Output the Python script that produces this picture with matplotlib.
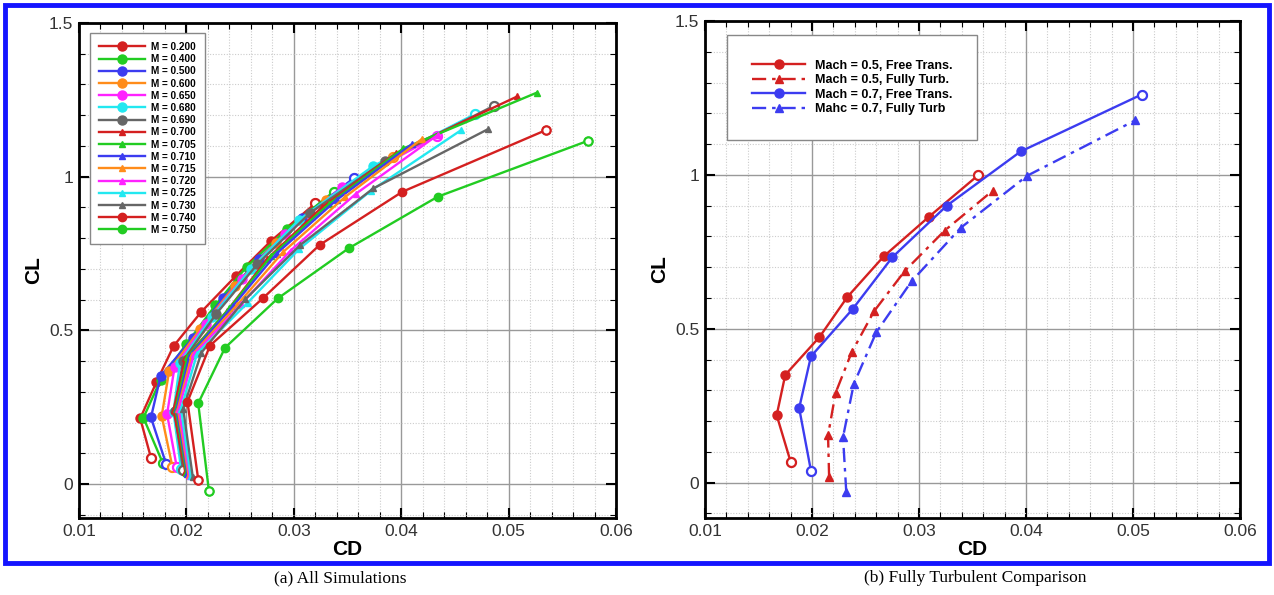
import matplotlib
matplotlib.use("Agg")
import matplotlib.pyplot as plt
from matplotlib.patches import Rectangle
from matplotlib.ticker import MultipleLocator, FormatStrFormatter

# ---- (a) all simulations: CD / CL per Mach number ----
mach_labels = ["M = 0.200", "M = 0.400", "M = 0.500", "M = 0.600", "M = 0.650",
               "M = 0.680", "M = 0.690", "M = 0.700", "M = 0.705", "M = 0.710",
               "M = 0.715", "M = 0.720", "M = 0.725", "M = 0.730", "M = 0.740",
               "M = 0.750"]

cd_m200 = [0.0167, 0.0157, 0.0172, 0.0188, 0.0214, 0.0246, 0.0279, 0.0320]
cl_m200 = [0.086, 0.214, 0.331, 0.449, 0.561, 0.677, 0.792, 0.913]
cd_m400 = [0.0178, 0.0160, 0.0176, 0.0200, 0.0227, 0.0256, 0.0294, 0.0337]
cl_m400 = [0.069, 0.216, 0.340, 0.456, 0.582, 0.707, 0.830, 0.951]
cd_m500 = [0.0181, 0.0167, 0.0176, 0.0206, 0.0234, 0.0268, 0.0308, 0.0356]
cl_m500 = [0.067, 0.217, 0.352, 0.475, 0.605, 0.734, 0.866, 0.996]
cd_m600 = [0.0187, 0.0177, 0.0184, 0.0213, 0.0245, 0.0283, 0.0330, 0.0392]
cl_m600 = [0.056, 0.222, 0.369, 0.505, 0.645, 0.785, 0.925, 1.065]
cd_m650 = [0.0191, 0.0182, 0.0189, 0.0218, 0.0252, 0.0292, 0.0345, 0.0433]
cl_m650 = [0.056, 0.228, 0.381, 0.522, 0.668, 0.815, 0.965, 1.133]
cd_m680 = [0.0195, 0.0188, 0.0194, 0.0224, 0.0260, 0.0305, 0.0374, 0.0469]
cl_m680 = [0.050, 0.235, 0.395, 0.545, 0.700, 0.860, 1.035, 1.204]
cd_m690 = [0.0197, 0.0189, 0.0197, 0.0228, 0.0266, 0.0315, 0.0385, 0.0486]
cl_m690 = [0.045, 0.238, 0.402, 0.555, 0.715, 0.882, 1.052, 1.230]
cd_m700 = [0.0199, 0.0188, 0.0199, 0.0238, 0.0275, 0.0326, 0.0395, 0.0508]
cl_m700 = [0.039, 0.242, 0.410, 0.564, 0.732, 0.900, 1.076, 1.261]
cd_m705 = [0.0200, 0.0190, 0.0201, 0.0240, 0.0279, 0.0333, 0.0402, 0.0526]
cl_m705 = [0.036, 0.245, 0.415, 0.572, 0.742, 0.912, 1.092, 1.273]
cd_m710 = [0.0201, 0.0191, 0.0203, 0.0243, 0.0284, 0.0340, 0.0410]
cl_m710 = [0.033, 0.245, 0.418, 0.578, 0.750, 0.925, 1.106]
cd_m715 = [0.0202, 0.0192, 0.0205, 0.0247, 0.0290, 0.0348, 0.0419]
cl_m715 = [0.030, 0.245, 0.420, 0.582, 0.755, 0.935, 1.122]
cd_m720 = [0.0203, 0.0193, 0.0207, 0.0251, 0.0297, 0.0358, 0.0434]
cl_m720 = [0.028, 0.245, 0.422, 0.585, 0.760, 0.945, 1.136]
cd_m725 = [0.0204, 0.0195, 0.0210, 0.0257, 0.0305, 0.0372, 0.0456]
cl_m725 = [0.025, 0.245, 0.425, 0.590, 0.765, 0.955, 1.152]
cd_m730 = [0.0206, 0.0197, 0.0214, 0.0255, 0.0306, 0.0374, 0.0481]
cl_m730 = [0.022, 0.245, 0.428, 0.602, 0.778, 0.962, 1.155]
cd_m740 = [0.0211, 0.0201, 0.0222, 0.0271, 0.0324, 0.0401, 0.0535]
cl_m740 = [0.015, 0.268, 0.451, 0.604, 0.778, 0.951, 1.152]
cd_m750 = [0.0221, 0.0211, 0.0236, 0.0285, 0.0351, 0.0434, 0.0574]
cl_m750 = [-0.023, 0.263, 0.444, 0.604, 0.767, 0.935, 1.117]

# ---- (b) free transition vs fully turbulent ----
comp_labels = ["Mach = 0.5, Free Trans.", "Mach = 0.5, Fully Turb.",
               "Mach = 0.7, Free Trans.", "Mahc = 0.7, Fully Turb"]
cd_05_free = [0.0180, 0.0167, 0.0175, 0.0207, 0.0233, 0.0267, 0.0309, 0.0355]
cl_05_free = [0.068, 0.219, 0.350, 0.473, 0.603, 0.735, 0.863, 0.998]
cd_05_turb = [0.0216, 0.0215, 0.0222, 0.0237, 0.0258, 0.0287, 0.0324, 0.0369]
cl_05_turb = [0.018, 0.154, 0.291, 0.423, 0.557, 0.689, 0.819, 0.949]
cd_07_free = [0.0199, 0.0188, 0.0199, 0.0238, 0.0275, 0.0326, 0.0395, 0.0508]
cl_07_free = [0.039, 0.242, 0.410, 0.564, 0.732, 0.900, 1.076, 1.261]
cd_07_turb = [0.0232, 0.0229, 0.0239, 0.0260, 0.0293, 0.0339, 0.0401, 0.0502]
cl_07_turb = [-0.029, 0.148, 0.320, 0.488, 0.654, 0.828, 0.997, 1.177]

RED, GREEN, BLUE = "#d42020", "#22cc22", "#3c3cf0"
ORANGE, MAGENTA, CYAN, GRAY = "#ff8c1a", "#ff22ff", "#22e8f0", "#666666"

plt.rcParams["font.family"] = ["Liberation Sans", "DejaVu Sans"]
fig = plt.figure(figsize=(12.74, 5.95), dpi=100)

W, H = 1274, 595


def make_axes(x0, x1, y0, y1):
    return fig.add_axes([x0 / W, 1 - y1 / H, (x1 - x0) / W, (y1 - y0) / H])


def style_axes(ax, ybot):
    ax.set_xlim(0.01, 0.06)
    ax.set_ylim(ybot, 1.5)
    ax.xaxis.set_major_locator(MultipleLocator(0.01))
    ax.xaxis.set_minor_locator(MultipleLocator(0.002))
    ax.yaxis.set_major_locator(MultipleLocator(0.5))
    ax.yaxis.set_minor_locator(MultipleLocator(0.1))
    ax.xaxis.set_major_formatter(FormatStrFormatter("%g"))
    ax.yaxis.set_major_formatter(FormatStrFormatter("%g"))
    ax.grid(which="major", color="#999999", lw=1.0, ls="-")
    ax.grid(which="minor", color="#cccccc", lw=0.8, ls=(0, (1, 1.5)))
    ax.set_axisbelow(True)
    ax.tick_params(which="both", direction="in", top=True, right=True,
                   colors="black", labelcolor="#333333")
    ax.tick_params(which="major", length=7, width=1.5, labelsize=12.5, pad=4)
    ax.tick_params(which="minor", length=4, width=0.8)
    for sp in ax.spines.values():
        sp.set_linewidth(2.0)
    ax.set_xlabel("CD", fontsize=15, fontweight="bold", labelpad=1)
    ax.set_ylabel("CL", fontsize=15, fontweight="bold", labelpad=4)


def draw(ax, cd, cl, color, marker, ms, label, ls="-", open_ends=True):
    ax.plot(cd, cl, color=color, lw=1.7, ls=ls, marker=marker, ms=ms,
            mec=color, mfc=color, label=label)
    if open_ends:
        ax.plot([cd[0], cd[-1]], [cl[0], cl[-1]], ls="none", marker=marker,
                ms=ms, mec=color, mfc="white", mew=1.6)


# ---------- left panel ----------
ax1 = make_axes(79, 616, 23, 518)
style_axes(ax1, -0.11)

left_series = [
    (cd_m200, cl_m200, RED, "o", 6.5),
    (cd_m400, cl_m400, GREEN, "o", 6.5),
    (cd_m500, cl_m500, BLUE, "o", 6.5),
    (cd_m600, cl_m600, ORANGE, "o", 6.5),
    (cd_m650, cl_m650, MAGENTA, "o", 6.5),
    (cd_m680, cl_m680, CYAN, "o", 6.5),
    (cd_m690, cl_m690, GRAY, "o", 6.5),
    (cd_m700, cl_m700, RED, "^", 5),
    (cd_m705, cl_m705, GREEN, "^", 5),
    (cd_m710, cl_m710, BLUE, "^", 5),
    (cd_m715, cl_m715, ORANGE, "^", 5),
    (cd_m720, cl_m720, MAGENTA, "^", 5),
    (cd_m725, cl_m725, CYAN, "^", 5),
    (cd_m730, cl_m730, GRAY, "^", 5),
    (cd_m740, cl_m740, RED, "o", 6),
    (cd_m750, cl_m750, GREEN, "o", 6),
]
for (cd, cl, c, m, ms), lab in zip(left_series, mach_labels):
    draw(ax1, cd, cl, c, m, ms, lab, open_ends=(m == "o"))

leg1 = ax1.legend(loc="upper left", bbox_to_anchor=(0.012, 0.99),
                  prop={"weight": "bold", "size": 7.2},
                  handlelength=4.6, labelspacing=0.22, borderpad=0.9,
                  handletextpad=0.6, fancybox=False, framealpha=1)
leg1.get_frame().set_edgecolor("#888888")
leg1.get_frame().set_linewidth(1.0)

# ---------- right panel ----------
ax2 = make_axes(705, 1240, 21, 518)
style_axes(ax2, -0.115)

dashdot = (0, (6, 2.5, 1.5, 2.5))
draw(ax2, cd_05_free, cl_05_free, RED, "o", 6.5, comp_labels[0])
draw(ax2, cd_05_turb, cl_05_turb, RED, "^", 5.5, comp_labels[1], ls=dashdot,
     open_ends=False)
draw(ax2, cd_07_free, cl_07_free, BLUE, "o", 6.5, comp_labels[2])
draw(ax2, cd_07_turb, cl_07_turb, BLUE, "^", 5.5, comp_labels[3], ls=dashdot,
     open_ends=False)

handles, labels = ax2.get_legend_handles_labels()
leg2 = ax2.legend(handles[:4], labels[:4], loc="upper left",
                  bbox_to_anchor=(0.03, 0.985),
                  prop={"weight": "bold", "size": 9},
                  handlelength=4.2, labelspacing=0.2, borderpad=2.0,
                  handletextpad=0.8, fancybox=False, framealpha=1)
leg2.get_frame().set_edgecolor("#888888")
leg2.get_frame().set_linewidth(1.0)

# ---------- frame and captions ----------
fig.patches.append(Rectangle((5 / W, 1 - 563 / H), 1264 / W, 558 / H,
                             transform=fig.transFigure, fill=False,
                             edgecolor="#1414ff", lw=3.5, zorder=10))
fig.text(340 / W, 1 - 578 / H, "(a) All Simulations", ha="center", va="center",
         family=["Liberation Serif", "DejaVu Serif"], fontsize=12.5)
fig.text(975 / W, 1 - 578 / H, "(b) Fully Turbulent Comparison", ha="center",
         va="center", family=["Liberation Serif", "DejaVu Serif"], fontsize=12.5)

fig.savefig("out.png", dpi=100)
